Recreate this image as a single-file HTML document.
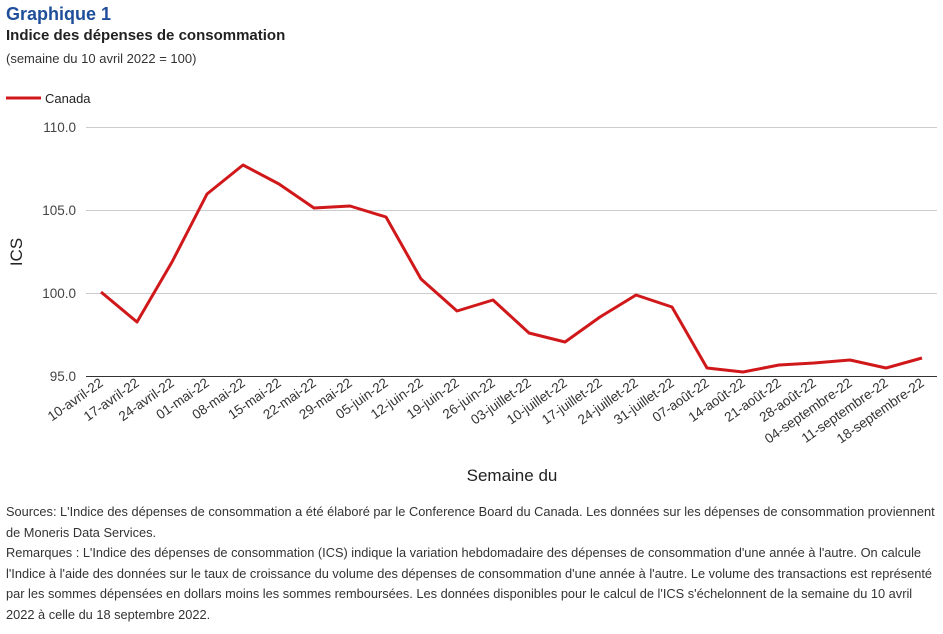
<!DOCTYPE html>
<html><head><meta charset="utf-8"><style>
body{margin:0;width:943px;height:634px;background:#fff;font-family:"Liberation Sans",Arial,sans-serif;overflow:hidden;position:relative}
.t1{position:absolute;left:6px;top:4px;font-size:18px;font-weight:bold;color:#1f4e9a}
.t2{position:absolute;left:6px;top:27px;font-size:15px;font-weight:bold;color:#222}
.t3{position:absolute;left:6px;top:51px;font-size:13px;color:#333}
.notes{position:absolute;left:6px;top:502px;width:933px;font-size:12.8px;line-height:20.5px;color:#333}
svg{position:absolute;left:0;top:0}
</style></head><body>
<div class="t1">Graphique 1</div>
<div class="t2">Indice des dépenses de consommation</div>
<div class="t3">(semaine du 10 avril 2022 = 100)</div>
<svg width="943" height="500" font-family="Liberation Sans, Arial, sans-serif">
<line x1="6" y1="98" x2="41" y2="98" stroke="#d0181b" stroke-width="3"/>
<text x="45" y="103" font-size="13" fill="#222">Canada</text>
<g stroke="#ccc" stroke-width="1">
<line x1="86" y1="127.5" x2="937" y2="127.5"/>
<line x1="86" y1="210.5" x2="937" y2="210.5"/>
<line x1="86" y1="293.5" x2="937" y2="293.5"/>
</g>
<line x1="86" y1="376.5" x2="937" y2="376.5" stroke="#333"/>
<g font-size="13.5" fill="#444" text-anchor="end">
<text x="76" y="132">110.0</text>
<text x="76" y="215">105.0</text>
<text x="76" y="298">100.0</text>
<text x="76" y="381">95.0</text>
</g>
<text transform="translate(22,252) rotate(-90)" font-size="17" fill="#222" text-anchor="middle">ICS</text>
<text x="512" y="481" font-size="17" fill="#222" text-anchor="middle">Semaine du</text>
<polyline fill="none" stroke="#d0181b" stroke-width="3" stroke-linejoin="round" points="101,292 137,322 172,262 207,194 243,165 279,184 314,208 350,206 386,217 421,279 457,311 493,300 529,333 565,342 600,317 636,295 672,307 707,368 743,372 779,365 814,363 850,360 886,368 922,358"/>
<g font-size="13.5" fill="#333" text-anchor="end">
<text transform="translate(104,385) rotate(-35)">10-avril-22</text>
<text transform="translate(140,385) rotate(-35)">17-avril-22</text>
<text transform="translate(175,385) rotate(-35)">24-avril-22</text>
<text transform="translate(210,385) rotate(-35)">01-mai-22</text>
<text transform="translate(246,385) rotate(-35)">08-mai-22</text>
<text transform="translate(282,385) rotate(-35)">15-mai-22</text>
<text transform="translate(317,385) rotate(-35)">22-mai-22</text>
<text transform="translate(353,385) rotate(-35)">29-mai-22</text>
<text transform="translate(389,385) rotate(-35)">05-juin-22</text>
<text transform="translate(424,385) rotate(-35)">12-juin-22</text>
<text transform="translate(460,385) rotate(-35)">19-juin-22</text>
<text transform="translate(496,385) rotate(-35)">26-juin-22</text>
<text transform="translate(532,385) rotate(-35)">03-juillet-22</text>
<text transform="translate(568,385) rotate(-35)">10-juillet-22</text>
<text transform="translate(603,385) rotate(-35)">17-juillet-22</text>
<text transform="translate(639,385) rotate(-35)">24-juillet-22</text>
<text transform="translate(675,385) rotate(-35)">31-juillet-22</text>
<text transform="translate(710,385) rotate(-35)">07-août-22</text>
<text transform="translate(746,385) rotate(-35)">14-août-22</text>
<text transform="translate(782,385) rotate(-35)">21-août-22</text>
<text transform="translate(817,385) rotate(-35)">28-août-22</text>
<text transform="translate(853,385) rotate(-35)">04-septembre-22</text>
<text transform="translate(889,385) rotate(-35)">11-septembre-22</text>
<text transform="translate(925,385) rotate(-35)">18-septembre-22</text>
</g>
</svg>
<div class="notes">Sources: L'Indice des dépenses de consommation a été élaboré par le Conference Board du Canada. Les données sur les dépenses de consommation proviennent de Moneris Data Services.<br>Remarques : L'Indice des dépenses de consommation (ICS) indique la variation hebdomadaire des dépenses de consommation d'une année à l'autre. On calcule l'Indice à l'aide des données sur le taux de croissance du volume des dépenses de consommation d'une année à l'autre. Le volume des transactions est représenté par les sommes dépensées en dollars moins les sommes remboursées. Les données disponibles pour le calcul de l'ICS s'échelonnent de la semaine du 10 avril 2022 à celle du 18 septembre 2022.</div>
</body></html>
